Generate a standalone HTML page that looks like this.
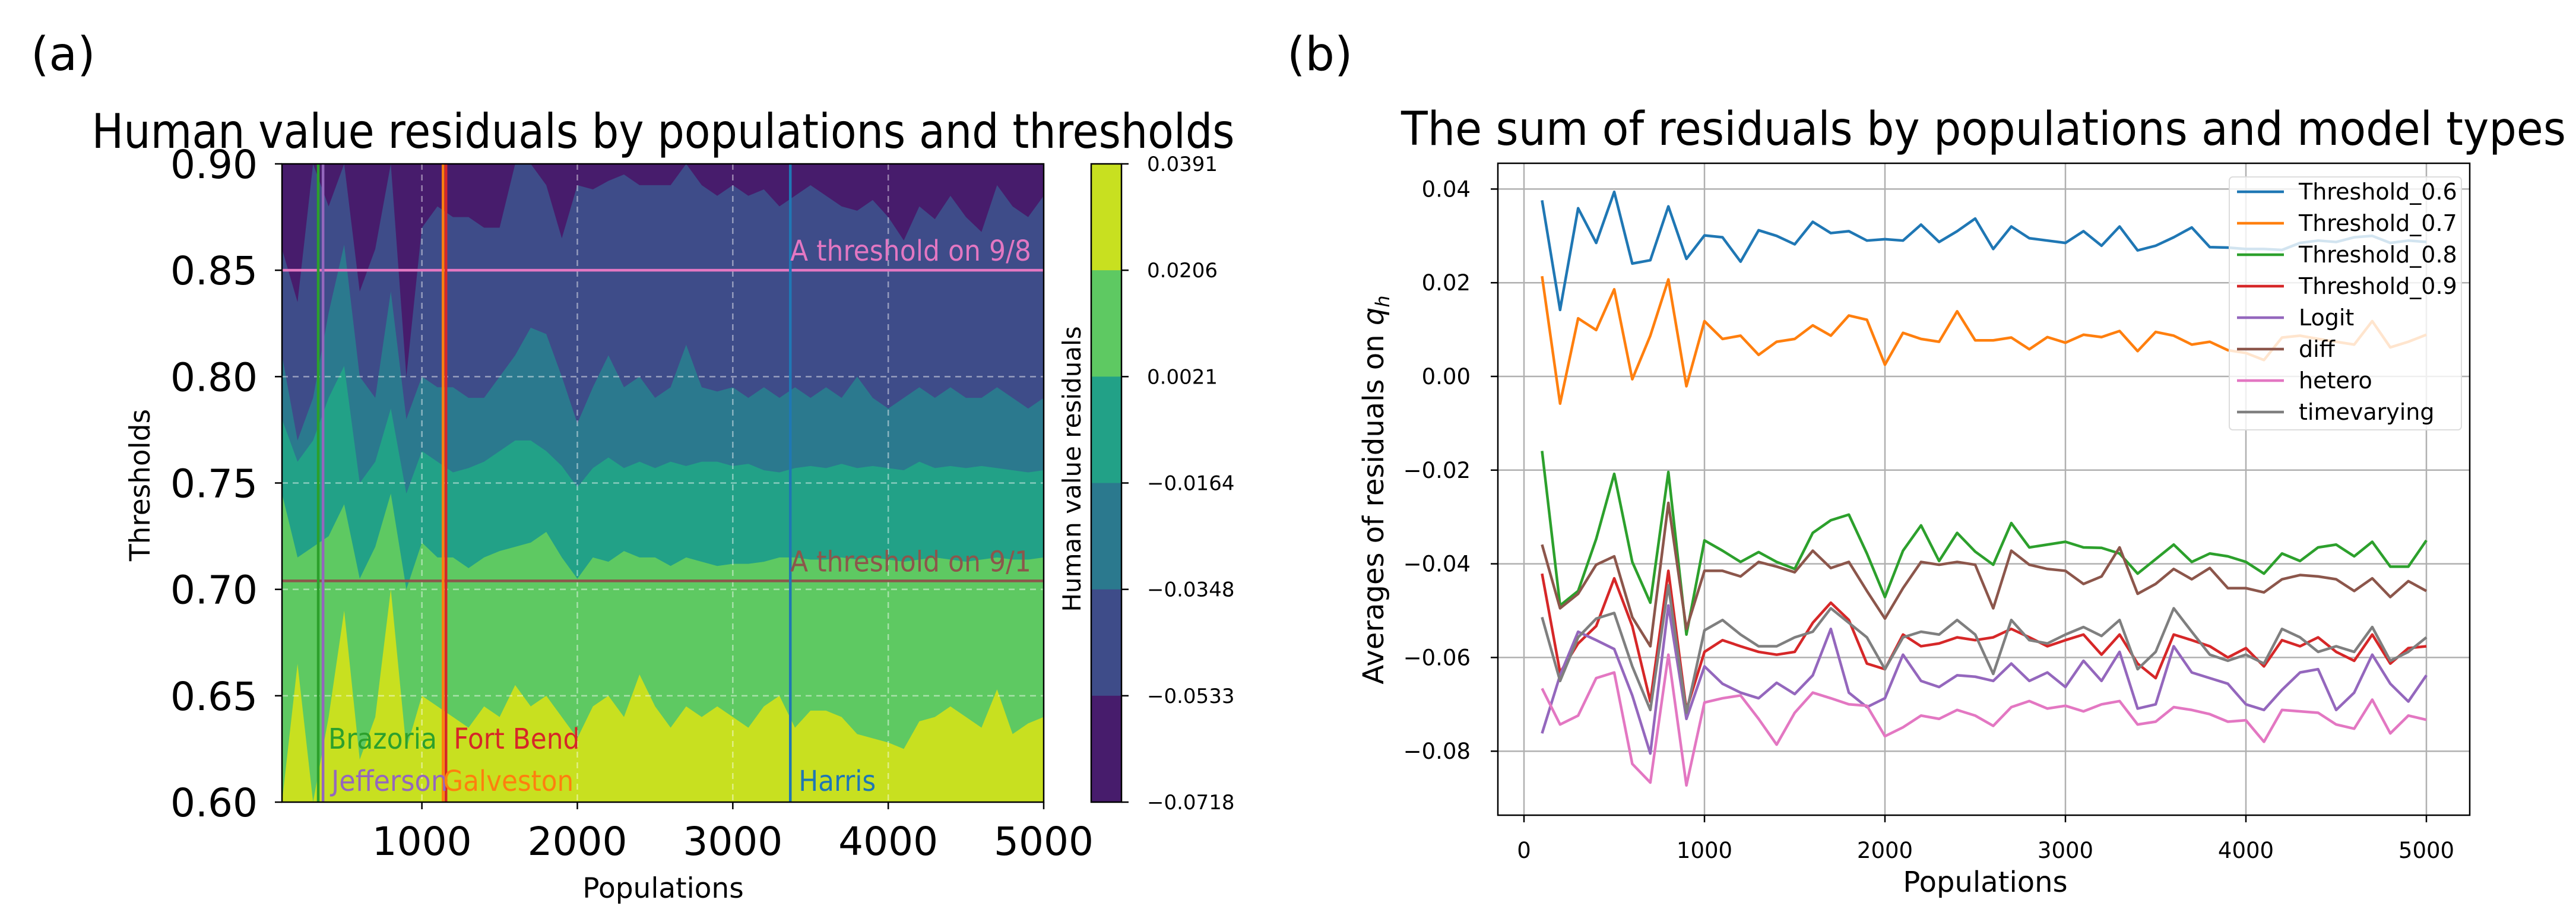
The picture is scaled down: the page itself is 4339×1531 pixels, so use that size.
<!DOCTYPE html>
<html><head><meta charset="utf-8"><style>
html,body{margin:0;padding:0;background:#fff;}
svg{display:block;font-family:"DejaVu Sans","Liberation Sans",sans-serif;}
</style></head>
<body>
<svg id="fig" width="4339" height="1531" viewBox="0 0 4339 1531" xmlns="http://www.w3.org/2000/svg">
<rect width="4339" height="1531" fill="#fff"/>
<text x="52" y="118" font-size="78">(a)</text>
<text x="2168" y="118" font-size="78">(b)</text>
<g id="left"></g>
<g id="right"></g>
</svg>
<script>
// ---------- Left chart data ----------
const pops = [100,200,300,400,500,600,700,800,900,1000,1100,1200,1300,1400,1500,1600,1700,1800,1900,2000,2100,2200,2300,2400,2500,2600,2700,2800,2900,3000,3100,3200,3300,3400,3500,3600,3700,3800,3900,4000,4100,4200,4300,4400,4500,4600,4700,4800,4900,5000];
const boundYellowGreen = [0.60,0.665,0.60,0.64,0.69,0.62,0.64,0.70,0.625,0.65,0.645,0.64,0.635,0.645,0.64,0.655,0.645,0.65,0.64,0.63,0.645,0.65,0.64,0.66,0.645,0.635,0.645,0.64,0.645,0.64,0.635,0.645,0.65,0.635,0.643,0.643,0.64,0.632,0.63,0.628,0.625,0.638,0.64,0.645,0.64,0.635,0.653,0.632,0.637,0.64];
const boundGreenTeal = [0.745,0.715,0.72,0.725,0.74,0.705,0.72,0.745,0.70,0.722,0.715,0.715,0.71,0.715,0.718,0.72,0.722,0.727,0.715,0.705,0.715,0.713,0.718,0.715,0.715,0.711,0.715,0.713,0.711,0.712,0.712,0.713,0.715,0.715,0.714,0.714,0.715,0.714,0.715,0.714,0.713,0.714,0.715,0.714,0.713,0.714,0.715,0.714,0.714,0.715];
const boundTealDark = [0.78,0.76,0.77,0.79,0.805,0.75,0.76,0.785,0.745,0.765,0.76,0.755,0.757,0.76,0.765,0.77,0.77,0.765,0.758,0.748,0.757,0.762,0.757,0.76,0.757,0.76,0.758,0.76,0.76,0.758,0.759,0.756,0.755,0.757,0.758,0.757,0.759,0.757,0.758,0.757,0.756,0.76,0.757,0.758,0.757,0.758,0.757,0.756,0.755,0.756];
const boundDarkBlue = [0.81,0.77,0.79,0.83,0.862,0.80,0.79,0.84,0.78,0.80,0.795,0.795,0.79,0.79,0.80,0.81,0.823,0.82,0.80,0.778,0.795,0.81,0.795,0.80,0.79,0.795,0.815,0.795,0.793,0.795,0.79,0.795,0.79,0.795,0.79,0.795,0.79,0.80,0.79,0.785,0.79,0.795,0.79,0.795,0.79,0.79,0.795,0.79,0.785,0.79];
const boundBluePurple = [0.86,0.835,0.90,0.88,0.90,0.84,0.86,0.90,0.80,0.87,0.88,0.875,0.875,0.87,0.87,0.90,0.90,0.89,0.865,0.89,0.888,0.892,0.895,0.89,0.89,0.89,0.90,0.89,0.885,0.89,0.885,0.888,0.88,0.885,0.89,0.885,0.88,0.878,0.883,0.875,0.864,0.88,0.874,0.885,0.875,0.868,0.89,0.88,0.875,0.885];
const cbarLevels = ["0.0391","0.0206","0.0021","−0.0164","−0.0348","−0.0533","−0.0718"];
const leftXTicks = [1000,2000,3000,4000,5000];
const leftYTicks = [0.60,0.65,0.70,0.75,0.80,0.85,0.90];
const countyNames = ["Brazoria","Jefferson","Galveston","Fort Bend","Harris"];
const countyPops = [333,364,1136,1155,3370];
const thresholdLines = [0.85,0.704];

// ---------- Right chart data ----------
const seriesNames = ["Threshold_0.6","Threshold_0.7","Threshold_0.8","Threshold_0.9","Logit","diff","hetero","timevarying"];
const thr06 = [0.0376,0.0142,0.0359,0.0285,0.0394,0.0241,0.0248,0.0363,0.0251,0.0301,0.0297,0.0245,0.0312,0.030,0.0282,0.033,0.0306,0.031,0.029,0.0293,0.029,0.0324,0.0287,0.031,0.0337,0.0272,0.032,0.0295,0.029,0.0285,0.031,0.0279,0.032,0.0269,0.0279,0.0297,0.0318,0.0276,0.0275,0.0272,0.0272,0.027,0.0285,0.029,0.0287,0.0297,0.030,0.0285,0.029,0.0287];
const thr07 = [0.0214,-0.0058,0.0124,0.0099,0.0186,-0.0006,0.0087,0.0207,-0.0021,0.0118,0.008,0.0087,0.0046,0.0074,0.008,0.0109,0.0087,0.013,0.0121,0.0025,0.0093,0.008,0.0074,0.0139,0.0077,0.0077,0.0083,0.0058,0.0084,0.0072,0.0089,0.0084,0.0097,0.0054,0.0095,0.0087,0.0068,0.0074,0.0056,0.005,0.0035,0.0083,0.0087,0.008,0.0074,0.0068,0.0118,0.0062,0.0074,0.0089];
const thr08 = [-0.0159,-0.0489,-0.0458,-0.0347,-0.0208,-0.0396,-0.0483,-0.0204,-0.0551,-0.035,-0.0372,-0.0396,-0.0375,-0.0396,-0.0411,-0.0334,-0.0307,-0.0295,-0.0378,-0.0471,-0.0372,-0.0318,-0.0394,-0.0334,-0.0374,-0.0402,-0.0313,-0.0365,-0.0359,-0.0353,-0.0365,-0.0366,-0.0378,-0.0421,-0.039,-0.0359,-0.0396,-0.0378,-0.0384,-0.0396,-0.0421,-0.0378,-0.0394,-0.0365,-0.0359,-0.0384,-0.0353,-0.0406,-0.0406,-0.035];
const thr09 = [-0.0421,-0.0632,-0.057,-0.0533,-0.0431,-0.0533,-0.0694,-0.0415,-0.0712,-0.0588,-0.0563,-0.0576,-0.0588,-0.0594,-0.0588,-0.0526,-0.0483,-0.052,-0.0613,-0.0625,-0.0551,-0.0576,-0.057,-0.0557,-0.0563,-0.0557,-0.0539,-0.0557,-0.0576,-0.0563,-0.0551,-0.0594,-0.0551,-0.0613,-0.0644,-0.0551,-0.0563,-0.0576,-0.06,-0.058,-0.0619,-0.0563,-0.0576,-0.0557,-0.0588,-0.0607,-0.0551,-0.0613,-0.058,-0.0576];
const logit = [-0.0762,-0.0638,-0.0545,-0.0563,-0.0582,-0.0681,-0.0805,-0.0489,-0.0731,-0.0619,-0.0656,-0.0675,-0.0687,-0.0654,-0.0678,-0.0638,-0.0539,-0.0675,-0.0706,-0.0687,-0.0594,-0.065,-0.0663,-0.0638,-0.0641,-0.065,-0.0613,-0.065,-0.0632,-0.0663,-0.0607,-0.065,-0.0588,-0.0709,-0.07,-0.0576,-0.0632,-0.0644,-0.0656,-0.07,-0.0712,-0.0669,-0.0632,-0.0625,-0.0712,-0.0675,-0.0594,-0.0656,-0.0694,-0.0638];
const diffS = [-0.0359,-0.0495,-0.0464,-0.0402,-0.0384,-0.0514,-0.0576,-0.027,-0.0539,-0.0415,-0.0415,-0.0427,-0.0396,-0.0406,-0.0418,-0.0372,-0.0409,-0.0396,-0.0458,-0.0517,-0.0452,-0.0396,-0.0402,-0.0396,-0.0402,-0.0495,-0.0372,-0.0402,-0.0411,-0.0415,-0.0443,-0.0427,-0.0365,-0.0464,-0.0443,-0.0411,-0.0433,-0.0409,-0.0452,-0.0452,-0.0461,-0.0433,-0.0424,-0.0427,-0.0433,-0.0458,-0.0431,-0.0471,-0.0437,-0.0458];
const hetero = [-0.0666,-0.0743,-0.0724,-0.0644,-0.0632,-0.0827,-0.0867,-0.0594,-0.0873,-0.0696,-0.0687,-0.0681,-0.0731,-0.0786,-0.0718,-0.0675,-0.0687,-0.07,-0.0703,-0.0768,-0.0749,-0.0724,-0.0731,-0.0712,-0.0724,-0.0746,-0.0706,-0.0693,-0.0709,-0.0703,-0.0715,-0.07,-0.0693,-0.0743,-0.0737,-0.0706,-0.0712,-0.0721,-0.0737,-0.0734,-0.078,-0.0712,-0.0715,-0.0718,-0.0743,-0.0752,-0.069,-0.0762,-0.0724,-0.0733];
const timevarying = [-0.0514,-0.065,-0.0557,-0.0517,-0.0505,-0.0619,-0.0712,-0.0446,-0.0718,-0.0542,-0.052,-0.0551,-0.0576,-0.0576,-0.0557,-0.0545,-0.0495,-0.0526,-0.0557,-0.0625,-0.0557,-0.0545,-0.0551,-0.052,-0.0551,-0.0635,-0.052,-0.0563,-0.057,-0.0551,-0.0535,-0.0554,-0.052,-0.0625,-0.0588,-0.0495,-0.0545,-0.0594,-0.0607,-0.0594,-0.0613,-0.0539,-0.0557,-0.0588,-0.0576,-0.0588,-0.0535,-0.0607,-0.0588,-0.0557];
const rightXTicks = [0,1000,2000,3000,4000,5000];
const rightYTicks = [0.04,0.02,0.00,-0.02,-0.04,-0.06,-0.08];
const rightYTickLabels = ["0.04","0.02","0.00","−0.02","−0.04","−0.06","−0.08"];

const NS = "http://www.w3.org/2000/svg";
function mk(parent, tag, attrs, text){
  const e = document.createElementNS(NS, tag);
  for (const k in attrs) e.setAttribute(k, attrs[k]);
  if (text !== undefined) e.textContent = text;
  parent.appendChild(e);
  return e;
}

// ===== Left =====
const L = document.getElementById('left');
const LX0=475, LX1=1758, LY0=276, LY1=1351;
const lx = p => LX0 + (p-100)/(5000-100)*(LX1-LX0);
const ly = t => LY1 - (t-0.60)/(0.30)*(LY1-LY0);

let e;
e = mk(L,'text',{x:1117,y:249,'font-size':80,'text-anchor':'middle',textLength:1925,lengthAdjust:'spacingAndGlyphs'},'Human value residuals by populations and thresholds');
 

const clip = mk(L,'clipPath',{id:'lclip'});
mk(clip,'rect',{x:LX0,y:LY0,width:LX1-LX0,height:LY1-LY0});
const plotG = mk(L,'g',{'clip-path':'url(#lclip)'});
e = mk(plotG,'rect',{x:LX0,y:LY0,width:LX1-LX0,height:LY1-LY0,fill:'#471c6c'});
 
const bands = [
  [boundBluePurple,'#3e4c89','contour-band-blue'],
  [boundDarkBlue,'#2b798e','contour-band-dark-teal'],
  [boundTealDark,'#22a187','contour-band-teal'],
  [boundGreenTeal,'#5ec962','contour-band-green'],
  [boundYellowGreen,'#c8e020','contour-band-yellow']
];
bands.forEach(b=>{
  let d = `M${lx(pops[0])},${LY1+5} `;
  pops.forEach((p,i)=>{ d += `L${lx(p)},${ly(b[0][i])} `; });
  d += `L${lx(pops[pops.length-1])},${LY1+5} Z`;
  const el = mk(plotG,'path',{d:d,fill:b[1]});
  
  
});
// grid
leftXTicks.slice(0,4).forEach(t=>{
  const el = mk(plotG,'line',{x1:lx(t),x2:lx(t),y1:LY0,y2:LY1,stroke:'#fff','stroke-opacity':0.45,'stroke-width':2.5,'stroke-dasharray':'10,8'});
   
});
leftYTicks.slice(1,6).forEach(t=>{
  const el = mk(plotG,'line',{x1:LX0,x2:LX1,y1:ly(t),y2:ly(t),stroke:'#fff','stroke-opacity':0.45,'stroke-width':2.5,'stroke-dasharray':'10,8'});
   
});
// threshold lines
const thrColors=['#e377c2','#8c564b'], thrLabels=['A threshold on 9/8','A threshold on 9/1'];
thresholdLines.forEach((t,i)=>{
  const el = mk(plotG,'line',{x1:LX0,x2:LX1,y1:ly(t),y2:ly(t),stroke:thrColors[i],'stroke-width':4.5});
   
  const tx = mk(L,'text',{x:1737,y:ly(t)-16,'font-size':48,'text-anchor':'end',fill:thrColors[i],textLength:406,lengthAdjust:'spacingAndGlyphs'},thrLabels[i]);
   
});
// county lines
const countyColors=['#2ca02c','#9467bd','#ff7f0e','#d62728','#1f77b4'];
const countyLabelY=[1261,1332,1332,1261,1332];
const countyLabelLen=[183,196,220,212,130];
const countyLabelDx=[17,14,-0,13,14];
countyPops.forEach((p,i)=>{
  const el = mk(plotG,'line',{x1:lx(p),x2:lx(p),y1:LY0,y2:LY1,stroke:countyColors[i],'stroke-width':4.5});
   
  const tx = mk(L,'text',{x:lx(p)+countyLabelDx[i],y:countyLabelY[i],'font-size':48,fill:countyColors[i],textLength:countyLabelLen[i],lengthAdjust:'spacingAndGlyphs'},countyNames[i]);
   
});
// spines
e = mk(L,'rect',{x:LX0,y:LY0,width:LX1-LX0,height:LY1-LY0,fill:'none',stroke:'#000','stroke-width':2.5});
 
leftXTicks.forEach(t=>{
  mk(L,'line',{x1:lx(t),x2:lx(t),y1:LY1,y2:LY1+12,stroke:'#000','stroke-width':2.5});
  const tx = mk(L,'text',{x:lx(t),y:1440,'font-size':66,'text-anchor':'middle'},String(t));
   
});
leftYTicks.forEach(t=>{
  mk(L,'line',{x1:LX0-12,x2:LX0,y1:ly(t),y2:ly(t),stroke:'#000','stroke-width':2.5});
  const tx = mk(L,'text',{x:434,y:ly(t)+24,'font-size':66,'text-anchor':'end'},t.toFixed(2));
   
});
e = mk(L,'text',{x:0,y:0,'font-size':47,'text-anchor':'middle',transform:'translate(252,817) rotate(-90)'},'Thresholds');
 
e = mk(L,'text',{x:1117,y:1512,'font-size':47,'text-anchor':'middle'},'Populations');
 
// colorbar
const CX0=1838, CX1=1889;
const cbColors=['#c8e020','#5ec962','#22a187','#2b798e','#3e4c89','#471c6c'];
const cbH=(LY1-LY0)/6;
cbColors.forEach((c,i)=>{
  const el = mk(L,'rect',{x:CX0,y:LY0+i*cbH,width:CX1-CX0,height:cbH+0.5,fill:c});
   
});
e = mk(L,'rect',{x:CX0,y:LY0,width:CX1-CX0,height:LY1-LY0,fill:'none',stroke:'#000','stroke-width':2.5});
 
cbarLevels.forEach((s,i)=>{
  const y = LY0+i*cbH;
  mk(L,'line',{x1:CX1,x2:CX1+12,y1:y,y2:y,stroke:'#000','stroke-width':2.5});
  const tx = mk(L,'text',{x:1932,y:y+12,'font-size':34},s);
   
});
e = mk(L,'text',{x:0,y:0,'font-size':42,'text-anchor':'middle',transform:'translate(1820,790) rotate(-90)'},'Human value residuals');
 

// ===== Right =====
const R = document.getElementById('right');
const RX0=2523, RX1=4160, RY0=275, RY1=1373;
const rx = p => 2567 + p*(4087-2567)/5000;
const ry = v => 634 - v/0.02*157.8;
e = mk(R,'text',{x:3341,y:244,'font-size':78,'text-anchor':'middle',textLength:1962,lengthAdjust:'spacingAndGlyphs'},'The sum of residuals by populations and model types');
 
rightXTicks.forEach(t=>{
  const el = mk(R,'line',{x1:rx(t),x2:rx(t),y1:RY0,y2:RY1,stroke:'#b0b0b0','stroke-width':2.5});
   
  mk(R,'line',{x1:rx(t),x2:rx(t),y1:RY1,y2:RY1+12,stroke:'#000','stroke-width':2.5});
  const tx = mk(R,'text',{x:rx(t),y:1445,'font-size':37,'text-anchor':'middle'},String(t));
   
});
rightYTicks.forEach((t,i)=>{
  const el = mk(R,'line',{x1:RX0,x2:RX1,y1:ry(t),y2:ry(t),stroke:'#b0b0b0','stroke-width':2.5});
   
  mk(R,'line',{x1:RX0-12,x2:RX0,y1:ry(t),y2:ry(t),stroke:'#000','stroke-width':2.5});
  const tx = mk(R,'text',{x:2477,y:ry(t)+13,'font-size':37,'text-anchor':'end'},rightYTickLabels[i]);
   
});
const seriesData=[thr06,thr07,thr08,thr09,logit,diffS,hetero,timevarying];
const seriesColors=['#1f77b4','#ff7f0e','#2ca02c','#d62728','#9467bd','#8c564b','#e377c2','#7f7f7f'];
seriesData.forEach((s,k)=>{
  const pts = pops.map((p,i)=>`${rx(p)},${ry(s[i])}`).join(' ');
  const el = mk(R,'polyline',{points:pts,fill:'none',stroke:seriesColors[k],'stroke-width':4.5,'stroke-linejoin':'round'});
  
  
});
e = mk(R,'rect',{x:RX0,y:RY0,width:RX1-RX0,height:RY1-RY0,fill:'none',stroke:'#000','stroke-width':2.5});
 
// legend
const lg = mk(R,'g',{});
 
mk(lg,'rect',{x:3755,y:298,width:391,height:426,rx:6,fill:'#fff','fill-opacity':0.8,stroke:'#ddd','stroke-width':2});
seriesNames.forEach((n,k)=>{
  const y = 323 + k*53;
  const ln = mk(lg,'line',{x1:3768,x2:3847,y1:y,y2:y,stroke:seriesColors[k],'stroke-width':4.5});
   
  const tx = mk(lg,'text',{x:3872,y:y+13,'font-size':38},n);
   
});
e = mk(R,'text',{x:0,y:0,'font-size':48,'text-anchor':'middle',transform:'translate(2330,825) rotate(-90)'});
 
e.appendChild(document.createTextNode('Averages of residuals on '));
const q = mk(e,'tspan',{'font-style':'italic'},'q');
mk(e,'tspan',{'font-style':'italic','font-size':32,dy:10},'h');
e = mk(R,'text',{x:3344,y:1502,'font-size':48,'text-anchor':'middle'},'Populations');
 
</script>
</body></html>
